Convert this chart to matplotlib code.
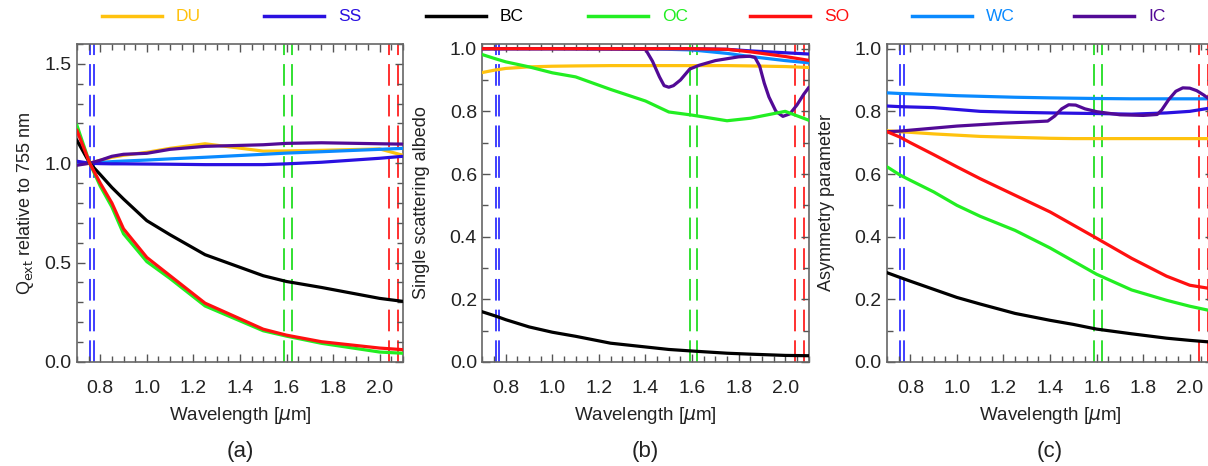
import numpy as np
import matplotlib
matplotlib.use("Agg")
import matplotlib.pyplot as plt
from matplotlib.lines import Line2D
from matplotlib.ticker import MultipleLocator

plt.rcParams['font.family'] = ['Liberation Sans', 'DejaVu Sans']
plt.rcParams['mathtext.fontset'] = 'dejavusans'

# species and colours
species = ['DU', 'SS', 'BC', 'OC', 'SO', 'WC', 'IC']
colors = {'DU': '#FFC20E', 'SS': '#2A10E0', 'BC': '#000000', 'OC': '#22EE22',
          'SO': '#FF1010', 'WC': '#0A8AFF', 'IC': '#520A96'}

# absorption band edges (um)
band_o2 = [0.757, 0.772]
band_wco2 = [1.590, 1.622]
band_sco2 = [2.040, 2.080]

# (a) Qext relative to 755 nm
wl_a = [0.70, 0.755, 0.80, 0.85, 0.90, 1.00, 1.10, 1.25, 1.50, 1.60, 1.75, 2.00, 2.10]
qext_du = [0.995, 1.0, 1.015, 1.03, 1.04, 1.055, 1.075, 1.098, 1.061, 1.062, 1.065, 1.072, 1.04]
qext_ss = [1.01, 1.0, 0.998, 0.997, 0.997, 0.996, 0.995, 0.993, 0.993, 0.997, 1.005, 1.025, 1.035]
qext_bc = [1.115, 1.0, 0.943, 0.878, 0.82, 0.711, 0.64, 0.54, 0.434, 0.405, 0.375, 0.32, 0.305]
qext_oc = [1.19, 1.0, 0.885, 0.78, 0.645, 0.505, 0.42, 0.282, 0.157, 0.13, 0.094, 0.05, 0.044]
qext_so = [1.165, 1.0, 0.90, 0.80, 0.67, 0.526, 0.434, 0.296, 0.165, 0.135, 0.102, 0.07, 0.062]
qext_wc = [0.998, 1.0, 1.004, 1.008, 1.011, 1.016, 1.022, 1.03, 1.045, 1.051, 1.058, 1.07, 1.075]
qext_ic = [0.99, 1.0, 1.015, 1.035, 1.045, 1.05, 1.07, 1.085, 1.093, 1.10, 1.103, 1.098, 1.096]

# (b) single scattering albedo
wl_b = [0.70, 0.755, 0.80, 0.90, 1.00, 1.10, 1.25, 1.40, 1.50, 1.60, 1.75, 1.85, 2.00, 2.10]
ssa_du = [0.924, 0.932, 0.937, 0.942, 0.944, 0.945, 0.946, 0.946, 0.946, 0.946, 0.946, 0.945, 0.943, 0.94]
ssa_ss = [1.0, 1.0, 1.0, 1.0, 1.0, 1.0, 1.0, 1.0, 1.0, 1.0, 0.998, 0.993, 0.987, 0.983]
ssa_bc = [0.160, 0.147, 0.135, 0.112, 0.095, 0.082, 0.06, 0.048, 0.04, 0.035, 0.028, 0.025, 0.021, 0.02]
ssa_oc = [0.981, 0.968, 0.958, 0.942, 0.923, 0.91, 0.87, 0.833, 0.798, 0.788, 0.77, 0.778, 0.80, 0.772]
ssa_so = [1.0, 1.0, 1.0, 1.0, 1.0, 1.0, 1.0, 1.0, 1.0, 1.0, 0.998, 0.99, 0.975, 0.963]
ssa_wc = [1.0, 1.0, 1.0, 1.0, 1.0, 1.0, 1.0, 0.999, 0.998, 0.996, 0.985, 0.975, 0.962, 0.955]
wl_ic_b = [0.70, 1.00, 1.40, 1.43, 1.46, 1.48, 1.50, 1.52, 1.55, 1.59, 1.63, 1.70, 1.80,
           1.85, 1.87, 1.89, 1.91, 1.93, 1.96, 1.99, 2.02, 2.05, 2.08, 2.10]
ssa_ic = [1.0, 1.0, 0.998, 0.96, 0.91, 0.882, 0.877, 0.882, 0.9, 0.935, 0.947, 0.962, 0.974,
          0.976, 0.972, 0.945, 0.89, 0.846, 0.80, 0.784, 0.792, 0.82, 0.855, 0.875]

# (c) asymmetry parameter
wl_c = [0.70, 0.755, 0.80, 0.90, 1.00, 1.10, 1.25, 1.40, 1.50, 1.60, 1.75, 1.90, 2.00, 2.10]
g_du = [0.738, 0.735, 0.733, 0.728, 0.724, 0.72, 0.717, 0.714, 0.713, 0.713, 0.713, 0.713, 0.713, 0.713]
g_ss = [0.817, 0.815, 0.814, 0.812, 0.806, 0.80, 0.797, 0.795, 0.794, 0.793, 0.791, 0.795, 0.80, 0.812]
g_bc = [0.285, 0.27, 0.258, 0.232, 0.206, 0.185, 0.155, 0.133, 0.12, 0.105, 0.09, 0.076, 0.069, 0.063]
g_oc = [0.623, 0.597, 0.58, 0.543, 0.50, 0.465, 0.42, 0.364, 0.322, 0.28, 0.23, 0.197, 0.178, 0.162]
g_so = [0.735, 0.718, 0.70, 0.662, 0.623, 0.585, 0.532, 0.479, 0.437, 0.395, 0.331, 0.274, 0.245, 0.233]
g_wc = [0.859, 0.857, 0.856, 0.853, 0.850, 0.848, 0.845, 0.843, 0.842, 0.841, 0.840, 0.840, 0.840, 0.840]
wl_ic_c = [0.70, 0.755, 1.00, 1.20, 1.39, 1.42, 1.45, 1.48, 1.51, 1.55, 1.60, 1.70, 1.80,
           1.86, 1.88, 1.91, 1.94, 1.97, 2.00, 2.03, 2.06, 2.10]
g_ic = [0.735, 0.737, 0.753, 0.762, 0.769, 0.785, 0.808, 0.821, 0.82, 0.808, 0.799, 0.789, 0.787,
        0.79, 0.805, 0.838, 0.864, 0.875, 0.874, 0.866, 0.852, 0.83]

panels = [
    dict(label='(a)', ylabel=r'Q$_{\rm ext}$ relative to 755 nm', ylim=(0, 1.6), major=0.5, minor=0.1,
         wl={s: wl_a for s in species},
         vals={'DU': qext_du, 'SS': qext_ss, 'BC': qext_bc, 'OC': qext_oc,
               'SO': qext_so, 'WC': qext_wc, 'IC': qext_ic}),
    dict(label='(b)', ylabel='Single scattering albedo', ylim=(0, 1.015), major=0.2, minor=0.1,
         wl={**{s: wl_b for s in species}, 'IC': wl_ic_b},
         vals={'DU': ssa_du, 'SS': ssa_ss, 'BC': ssa_bc, 'OC': ssa_oc,
               'SO': ssa_so, 'WC': ssa_wc, 'IC': ssa_ic}),
    dict(label='(c)', ylabel='Asymmetry parameter', ylim=(0, 1.015), major=0.2, minor=0.1,
         wl={**{s: wl_c for s in species}, 'IC': wl_ic_c},
         vals={'DU': g_du, 'SS': g_ss, 'BC': g_bc, 'OC': g_oc,
               'SO': g_so, 'WC': g_wc, 'IC': g_ic}),
]

fig = plt.figure(figsize=(12.08, 4.66), dpi=100)
lefts = [0.0637, 0.3994, 0.7343]
ylab_x = [-0.125, -0.162, -0.16]
draw_order = ['DU', 'WC', 'SS', 'IC', 'BC', 'OC', 'SO']

for i, p in enumerate(panels):
    ax = fig.add_axes([lefts[i], 0.2232, 0.2699, 0.6824])
    for xs, c in [(band_o2, '#3030FF'), (band_wco2, '#22DD22'), (band_sco2, '#FF2020')]:
        for x in xs:
            ax.axvline(x, color=c, lw=1.3, ls=(0, (12, 5)), zorder=1)
    for s in draw_order:
        ax.plot(p['wl'][s], p['vals'][s], color=colors[s], lw=2.3, zorder=3,
                solid_joinstyle='round')
    ax.set_xlim(0.7, 2.1)
    ax.set_ylim(*p['ylim'])
    ax.xaxis.set_major_locator(MultipleLocator(0.2))
    ax.xaxis.set_minor_locator(MultipleLocator(0.05))
    ax.yaxis.set_major_locator(MultipleLocator(p['major']))
    ax.yaxis.set_minor_locator(MultipleLocator(p['minor']))
    ax.yaxis.set_major_formatter(plt.FormatStrFormatter('%.1f'))
    ax.xaxis.set_major_formatter(plt.FormatStrFormatter('%.1f'))
    ax.tick_params(which='both', direction='in', top=True, right=True, color='#555555',
                   labelsize=14, labelcolor='#222222')
    ax.tick_params(which='major', length=6, width=1)
    ax.tick_params(which='minor', length=4, width=1)
    ax.tick_params(axis='x', pad=13)
    ax.tick_params(axis='y', pad=4)
    for sp in ax.spines.values():
        sp.set_color('#666666')
        sp.set_linewidth(1.2)
    ax.set_xlabel(r'Wavelength [$\mu$m]', fontsize=13.5, color='#222222', labelpad=6)
    ax.set_ylabel(p['ylabel'], fontsize=13, color='#222222')
    ax.yaxis.set_label_coords(ylab_x[i], 0.5)
    ax.text(0.5, -0.283, p['label'], transform=ax.transAxes, ha='center', va='center',
            fontsize=16, color='#222222')

# legend across the top
for k, s in enumerate(species):
    x0 = 0.0844 + k * 0.1341
    fig.add_artist(Line2D([x0, x0 + 0.0497], [0.965, 0.965], color=colors[s], lw=2.5,
                          transform=fig.transFigure))
    fig.text(x0 + 0.0613, 0.965, s, color=colors[s], fontsize=12.5, va='center', ha='left')

fig.savefig('out.png', dpi=100)
